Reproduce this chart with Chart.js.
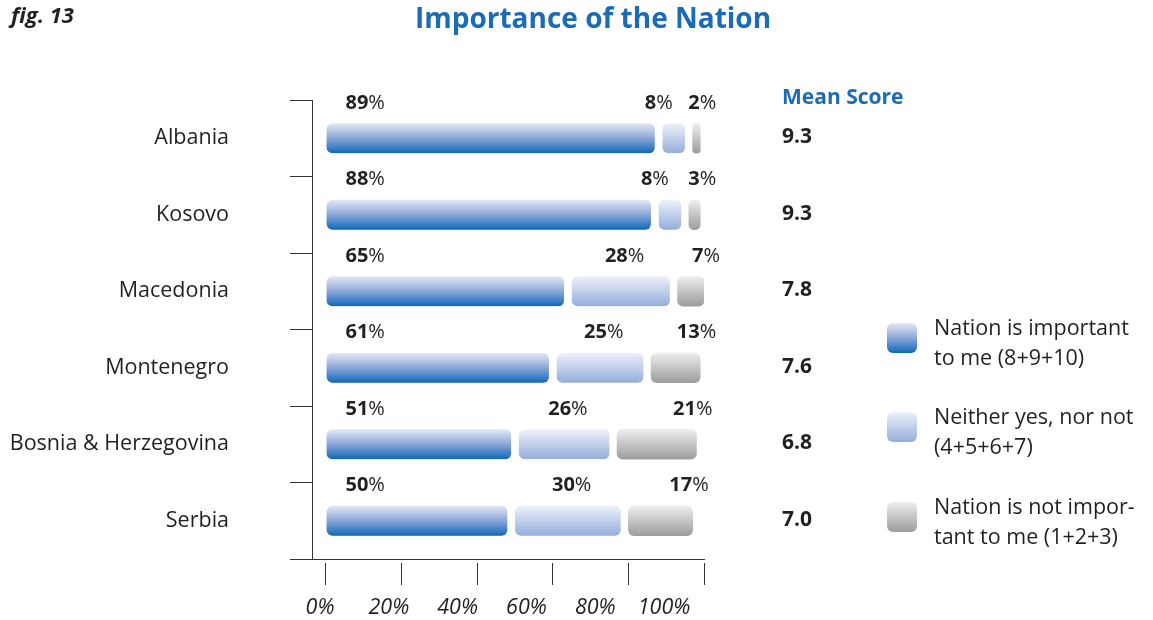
<!DOCTYPE html>
<html>
<head>
<meta charset="utf-8">
<script src="https://cdn.jsdelivr.net/npm/chart.js@4.4.1/dist/chart.umd.min.js"></script>
<style>
  html, body { margin: 0; padding: 0; background: #fff; }
</style>
</head>
<body>
<canvas id="chart" width="1153" height="620"></canvas>
<script>
const countries = ["Albania", "Kosovo", "Macedonia", "Montenegro", "Bosnia & Herzegovina", "Serbia"];
const important = [89, 88, 65, 61, 51, 50];
const neither = [8, 8, 28, 25, 26, 30];
const notImportant = [2, 3, 7, 13, 21, 17];
const meanScores = ["9.3", "9.3", "7.8", "7.6", "6.8", "7.0"];
const tickValues = [0, 20, 40, 60, 80, 100];
const legendLines = [
  ["Nation is important", "to me (8+9+10)"],
  ["Neither yes, nor not", "(4+5+6+7)"],
  ["Nation is not impor-", "tant to me (1+2+3)"]
];

const FONT = "'Open Sans', 'DejaVu Sans', sans-serif";
const DARK = "#231f20";
const BLUE = "#1b6bb5";

// vertical gradients for each series
const gradStops = [
  [[0, "#e4e9f6"], [0.45, "#94addb"], [0.9, "#2a74c0"], [1, "#0b67b5"]],
  [[0, "#eef1fa"], [1, "#94aedb"]],
  [[0, "#eeeeee"], [1, "#9c9c9c"]]
];

function makeGrad(ctx, stops, top, bottom) {
  const g = ctx.createLinearGradient(0, top, 0, bottom);
  stops.forEach(s => g.addColorStop(s[0], s[1]));
  return g;
}

function barFill(i) {
  return (c) => {
    const y = c.chart.scales.y;
    if (!y || c.type !== "data") return gradStops[i][1][1];
    const cy = y.getPixelForValue(c.dataIndex);
    if (!Number.isFinite(cy)) return gradStops[i][1][1];
    return makeGrad(c.chart.ctx, gradStops[i], cy - 15, cy + 15);
  };
}

const gapRadius = {topLeft: 6, bottomLeft: 6, topRight: 14, bottomRight: 14};

const extras = {
  id: "extras",
  afterDraw(chart) {
    const ctx = chart.ctx;
    const ys = chart.scales.y;
    ctx.save();

    // fig label
    ctx.fillStyle = DARK;
    ctx.font = "italic bold 22px " + FONT;
    ctx.textAlign = "left";
    ctx.textBaseline = "alphabetic";
    ctx.fillText("fig. 13", 11, 23);

    // title
    ctx.fillStyle = BLUE;
    ctx.font = "bold 28px " + FONT;
    ctx.textAlign = "center";
    ctx.fillText("Importance of the Nation", 593, 28);

    // mean score column
    ctx.textAlign = "left";
    ctx.textBaseline = "middle";
    ctx.font = "bold 21px " + FONT;
    ctx.fillText("Mean Score", 782, 98);
    ctx.fillStyle = DARK;
    meanScores.forEach((m, i) => {
      ctx.fillText(m, 782, ys.getPixelForValue(i) - 1);
    });

    // percentage labels above each segment
    const boldF = "bold 20px " + FONT;
    const normF = "20px " + FONT;
    chart.data.datasets.forEach((ds, di) => {
      const meta = chart.getDatasetMeta(di);
      meta.data.forEach((bar, i) => {
        const num = String(ds.data[i]);
        ctx.font = boldF;
        const wn = ctx.measureText(num).width;
        ctx.font = normF;
        const wp = ctx.measureText("%").width;
        const w = wn + wp;
        let left;
        if (di === 0) {
          left = bar.base + 19;
        } else if (di === 1) {
          const right = Math.min((bar.base + bar.x) / 2 + w / 2, bar.x - 20);
          left = right - w;
        } else {
          left = bar.x + 16 - w;
        }
        const y = bar.y - 35;
        ctx.fillStyle = DARK;
        ctx.textAlign = "left";
        ctx.font = boldF;
        ctx.fillText(num, left, y);
        ctx.font = normF;
        ctx.fillText("%", left + wn, y);
      });
    });

    // legend
    const legendTop = [323, 412, 502];
    legendTop.forEach((t, i) => {
      ctx.beginPath();
      ctx.roundRect(887, t, 30, 30, 6);
      ctx.fillStyle = makeGrad(ctx, gradStops[i], t, t + 30);
      ctx.fill();
      ctx.fillStyle = DARK;
      ctx.font = "21.5px " + FONT;
      ctx.textAlign = "left";
      ctx.textBaseline = "middle";
      legendLines[i].forEach((line, k) => {
        ctx.fillText(line, 934, t + 6 + k * 30);
      });
    });

    ctx.restore();
  }
};

new Chart(document.getElementById("chart"), {
  type: "bar",
  data: {
    labels: countries,
    datasets: [
      {
        label: legendLines[0].join(" "),
        data: important,
        backgroundColor: barFill(0),
        borderColor: "rgba(0,0,0,0)",
        borderWidth: {left: 0, right: 8, top: 0, bottom: 0},
        borderSkipped: false,
        borderRadius: gapRadius
      },
      {
        label: legendLines[1].join(" "),
        data: neither,
        backgroundColor: barFill(1),
        borderColor: "rgba(0,0,0,0)",
        borderWidth: {left: 0, right: 8, top: 0, bottom: 0},
        borderSkipped: false,
        borderRadius: gapRadius
      },
      {
        label: legendLines[2].join(" "),
        data: notImportant,
        backgroundColor: barFill(2),
        borderWidth: 0,
        borderSkipped: false,
        borderRadius: {topLeft: 6, bottomLeft: 6, topRight: 6, bottomRight: 6}
      }
    ]
  },
  options: {
    indexAxis: "y",
    responsive: false,
    animation: false,
    devicePixelRatio: 1,
    barThickness: 30,
    layout: {padding: {left: 0, right: 449, top: 100, bottom: 0}},
    plugins: {
      legend: {display: false},
      tooltip: {enabled: false}
    },
    scales: {
      y: {
        type: "category",
        stacked: true,
        offset: true,
        grid: {offset: true, drawOnChartArea: false, tickLength: 22, color: "#333"},
        border: {color: "#333", width: 1},
        ticks: {padding: 61, color: DARK, font: {family: FONT, size: 21.5}},
        afterFit: s => { s.width = 312; s.paddingTop = 0; s.paddingBottom = 0; }
      },
      x: {
        type: "linear",
        stacked: true,
        min: -3.7,
        max: 100,
        weight: 0,
        afterBuildTicks: s => { s.ticks = tickValues.map(v => ({value: v})); },
        grid: {drawOnChartArea: false, tickLength: 26, color: "#333", tickBorderDash: [0, 3, 30]},
        border: {display: true, color: "#333", width: 1},
        ticks: {display: false},
        afterFit: s => { s.height = 27; }
      },
      x2: {
        type: "linear",
        position: "bottom",
        min: -2.33,
        max: 111.6,
        weight: 1,
        afterBuildTicks: s => { s.ticks = tickValues.map(v => ({value: v})); },
        grid: {display: false, drawTicks: false},
        border: {display: false},
        ticks: {
          padding: 9,
          color: DARK,
          font: {family: FONT, size: 21.5, style: "italic"},
          callback: v => v + "%"
        },
        afterFit: s => { s.height = 34; }
      }
    }
  },
  plugins: [extras]
});
</script>
</body>
</html>
